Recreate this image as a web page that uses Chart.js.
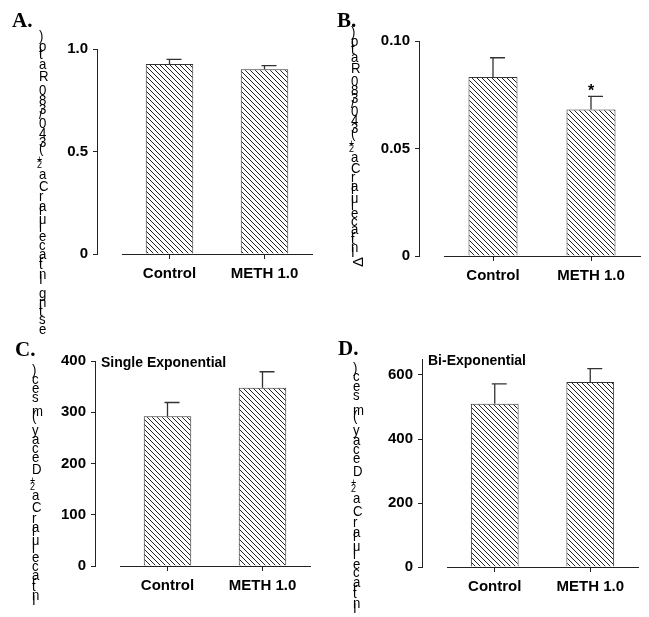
<!DOCTYPE html>
<html>
<head>
<meta charset="utf-8">
<script src="https://cdn.jsdelivr.net/npm/chart.js@4.4.1/dist/chart.umd.min.js"></script>
<style>
body { margin: 0; background: #fff; }
#figura { position: relative; width: 649px; height: 617px; background: #fff; }
#figura canvas { position: absolute; }
</style>
</head>
<body>
<div id="figura">
    <canvas id="panelA" width="324" height="335" style="left:0px;top:0px"></canvas>
    <canvas id="panelB" width="325" height="335" style="left:324px;top:0px"></canvas>
    <canvas id="panelC" width="324" height="282" style="left:0px;top:335px"></canvas>
    <canvas id="panelD" width="325" height="282" style="left:324px;top:335px"></canvas>
</div>
<script>
var categorias = ['Control', 'METH 1.0'];

// A. resting Ca2+
var restingMedia = [0.927, 0.901];
var restingError = [0.022, 0.018];
var restingTicks = [0, 0.5, 1.0];
var restingTickLabels = ['0', '0.5', '1.0'];

// B. delta Ca2+
var deltaMedia = [0.0832, 0.0681];
var deltaError = [0.0090, 0.0061];
var deltaTicks = [0, 0.05, 0.10];
var deltaTickLabels = ['0', '0.05', '0.10'];
var deltaSignif = ['', '*'];

// C. single exponential decay
var singleMedia = [292, 348];
var singleError = [27, 31];
var singleTicks = [0, 100, 200, 300, 400];
var singleTickLabels = ['0', '100', '200', '300', '400'];

// D. bi-exponential decay
var biMedia = [510, 578];
var biError = [62, 42];
var biTicks = [0, 200, 400, 600];
var biTickLabels = ['0', '200', '400', '600'];
var biMax = 650;

var tituloA = [{t: 'Resting Intracellular Ca'}, {t: '2+', sup: true}, {t: ' (340/380 Ratio)'}];
var tituloB = [{t: '\u0394', rot: true}, {t: 'Intracellular Ca'}, {t: '2+', sup: true}, {t: ' (340/380 Ratio)'}];
var tituloCD = [{t: 'Intracellular Ca'}, {t: '2+', sup: true}, {t: ' Decay (msec)'}];

var fuente = '"Liberation Sans", Arial, sans-serif';

function crearTrama(ctx)
{
    var c = document.createElement('canvas');
    c.width = 5;
    c.height = 5;
    var g = c.getContext('2d');
    g.fillStyle = '#fff';
    g.fillRect(0, 0, 5, 5);
    g.strokeStyle = '#222';
    g.lineWidth = 1;
    g.beginPath();
    g.moveTo(-1, -1); g.lineTo(6, 6);
    g.moveTo(-1, 4); g.lineTo(1, 6);
    g.moveTo(4, -1); g.lineTo(6, 1);
    g.stroke();
    return ctx.createPattern(c, 'repeat');
}

// y title: glyphs left upright, stacked upward from y0
function dibujarTituloY(ctx, partes, x, y0, paso)
{
    ctx.save();
    ctx.fillStyle = '#000';
    ctx.textAlign = 'left';
    ctx.textBaseline = 'alphabetic';
    var y = y0;
    partes.forEach(function (p) {
        var tam = p.sup ? 10 : 15;
        var pasoP = p.sup ? paso * 0.6 : paso;
        for (var i = 0; i < p.t.length; i++) {
            var ch = p.t[i];
            ctx.font = pasoP + 'px ' + fuente;
            var avance = ctx.measureText(ch).width;
            ctx.font = tam + 'px ' + fuente;
            ctx.save();
            if (p.rot) {
                ctx.translate(x + 12, y);
                ctx.rotate(-Math.PI / 2);
                ctx.fillText(ch, 0, 0);
            } else if (p.sup) {
                ctx.translate(x - 2, y - 1);
                ctx.scale(0.9, 1);
                ctx.fillText(ch, 0, 0);
            } else {
                ctx.translate(x, y);
                ctx.scale(0.88, 1);
                ctx.fillText(ch, 0, 0);
            }
            ctx.restore();
            y -= avance;
        }
    });
    ctx.restore();
}

var pluginPanel = {
    id: 'panel',
    afterDatasetsDraw: function (chart, args, opts) {
        var ctx = chart.ctx;
        var meta = chart.getDatasetMeta(0);
        var yScale = chart.scales.y;
        ctx.save();
        ctx.strokeStyle = '#333';
        ctx.lineWidth = 1.3;
        meta.data.forEach(function (bar, i) {
            var media = chart.data.datasets[0].data[i];
            var yTop = yScale.getPixelForValue(media + opts.errores[i]);
            ctx.beginPath();
            ctx.moveTo(bar.x, bar.y);
            ctx.lineTo(bar.x, yTop);
            ctx.moveTo(bar.x - 3, yTop);
            ctx.lineTo(bar.x + 12, yTop);
            ctx.stroke();
            if (opts.signif && opts.signif[i]) {
                ctx.fillStyle = '#000';
                ctx.font = 'bold 16px ' + fuente;
                ctx.textAlign = 'center';
                ctx.textBaseline = 'alphabetic';
                ctx.fillText(opts.signif[i], bar.x, yTop);
            }
        });
        ctx.restore();
    },
    afterDraw: function (chart, args, opts) {
        var ctx = chart.ctx;
        ctx.save();
        ctx.fillStyle = '#000';
        ctx.textBaseline = 'alphabetic';
        ctx.textAlign = 'left';
        ctx.font = 'bold 21px "Liberation Serif", "Times New Roman", serif';
        ctx.fillText(opts.letra, opts.letraX, opts.letraY);
        if (opts.subtitulo) {
            ctx.font = 'bold 14px ' + fuente;
            ctx.fillText(opts.subtitulo, chart.scales.y.right + 6, chart.chartArea.top + 6);
        }
        ctx.restore();
        dibujarTituloY(ctx, opts.titulo, opts.tituloX, opts.tituloY0, opts.paso);
    }
};

function crearPanel(id, media, error, ticks, tickLabels, max, padding, panelOpts)
{
    var canvas = document.getElementById(id);
    var ctx = canvas.getContext('2d');
    panelOpts.errores = error;
    var fuenteTicks = {family: fuente, size: 15, weight: 'bold'};
    return new Chart(canvas, {
        type: 'bar',
        data: {
            labels: categorias,
            datasets: [{
                data: media,
                xAxisID: 'x',
                yAxisID: 'y',
                backgroundColor: crearTrama(ctx),
                borderColor: '#333',
                borderWidth: 1,
                categoryPercentage: 0.5,
                barPercentage: 1
            }]
        },
        options: {
            responsive: false,
            animation: false,
            devicePixelRatio: 1,
            layout: {padding: padding},
            plugins: {
                legend: {display: false},
                tooltip: {enabled: false},
                panel: panelOpts
            },
            scales: {
                x: {
                    type: 'category',
                    offset: true,
                    grid: {display: true, drawOnChartArea: false, offset: false, tickLength: 5, tickColor: '#222'},
                    border: {display: true, color: '#222', width: 1},
                    ticks: {color: '#000', font: fuenteTicks, padding: 6, maxRotation: 0},
                    afterFit: function (s) { s.height = 40; }
                },
                gap: {
                    type: 'linear',
                    position: 'left',
                    weight: 0,
                    grid: {display: false},
                    border: {display: false},
                    ticks: {display: false},
                    afterFit: function (s) { s.width = 25; }
                },
                y: {
                    type: 'linear',
                    position: 'left',
                    weight: 1,
                    min: 0,
                    max: max,
                    grid: {display: true, drawOnChartArea: false, tickLength: 4, tickColor: '#222'},
                    border: {display: true, color: '#222', width: 1},
                    ticks: {
                        color: '#000',
                        font: fuenteTicks,
                        padding: 5,
                        callback: function (v, i) { return tickLabels[i]; }
                    },
                    afterBuildTicks: function (s) {
                        s.ticks = ticks.map(function (v) { return {value: v}; });
                    },
                    afterFit: function (s) { s.width = 60; }
                }
            }
        },
        plugins: [pluginPanel]
    });
}

crearPanel('panelA', restingMedia, restingError, restingTicks, restingTickLabels, 1.0,
    {left: 37, right: 12, top: 49, bottom: 41},
    {letra: 'A.', letraX: 12, letraY: 27, titulo: tituloA, tituloX: 39, tituloY0: 346, paso: 17});

crearPanel('panelB', deltaMedia, deltaError, deltaTicks, deltaTickLabels, 0.10,
    {left: 35, right: 9, top: 41, bottom: 39},
    {letra: 'B.', letraX: 13, letraY: 27, titulo: tituloB, tituloX: 27, tituloY0: 267, paso: 15.4, signif: deltaSignif});

crearPanel('panelC', singleMedia, singleError, singleTicks, singleTickLabels, 400,
    {left: 35, right: 14, top: 26, bottom: 11},
    {letra: 'C.', letraX: 15, letraY: 21, titulo: tituloCD, tituloX: 32, tituloY0: 270, paso: 17, subtitulo: 'Single Exponential'});

crearPanel('panelD', biMedia, biError, biTicks, biTickLabels, biMax,
    {left: 38, right: 11, top: 24, bottom: 10},
    {letra: 'D.', letraX: 14, letraY: 20, titulo: tituloCD, tituloX: 29, tituloY0: 278, paso: 17.8, subtitulo: 'Bi-Exponential'});
</script>
</body>
</html>
